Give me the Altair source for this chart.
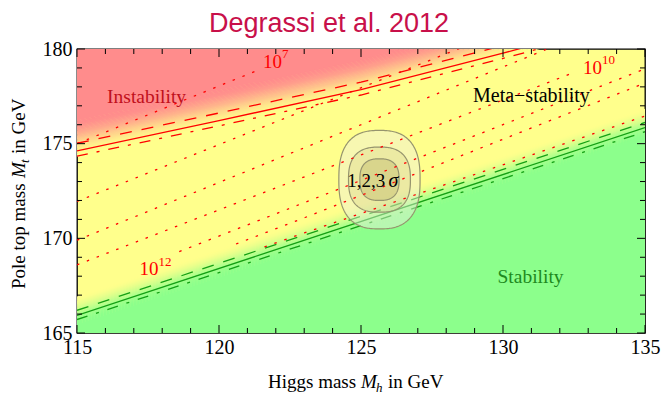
import altair as alt
import numpy as np
import pandas as pd

# ---------------------------------------------------------------- data
MH_RANGE = [115, 135]
MT_RANGE = [165, 180]

# absolute-stability bound (central alpha_s) and its alpha_s +/- shifts
stab_mh = [115.0, 135.0]
stab_mt = [165.93, 175.85]
stab_up, stab_dn = 0.27, -0.22

# instability bound (central alpha_s) and its alpha_s +/- shifts
inst_mh = [115.0, 120.0, 125.0, 130.0, 135.0]
inst_mt = [174.62, 176.22, 177.85, 179.78, 181.8]
inst_up, inst_dn = 0.40, -0.28

# contours of the instability scale Lambda (dotted): points along each line
lam_pts = {
    "L7":  ([115.0, 121.4], [175.0, 178.9]),
    "L8":  ([115.0, 135.0], [171.95, 183.95]),
    "L9":  ([115.0, 135.0], [169.9, 182.1]),
    "L10": ([115.0, 132.4], [168.6, 178.7]),
    "L12": ([118.6, 123.03, 135.0], [169.3, 171.9, 178.95]),
    "L13": ([120.6, 123.03, 135.0], [169.7, 171.1, 178.2]),
    "L14": ([121.6, 123.03, 135.0], [169.55, 170.3, 176.46]),
}

# Higgs / top mass measurement: 1, 2, 3 sigma regions
cl_center = (125.65, 173.1)
cl_half_mh = [0.69, 1.09, 1.43]
cl_half_mt = [1.10, 1.72, 2.60]

x_major = [115, 120, 125, 130, 135]
y_major = [165, 170, 175, 180]
x_minor = [v for v in range(115, 136) if v % 5]
y_minor = [v for v in range(165, 181) if v % 5]

# ---------------------------------------------------------------- style
W, H = 568, 284
RED, YEL, GRN = "#FF8C8C", "#FFFF8C", "#8CFF8C"
LRED, LGRN = "#FF0000", "#14A014"
SERIF = "Liberation Serif"

xs = alt.Scale(domain=MH_RANGE, nice=False, zero=False)
ys = alt.Scale(domain=MT_RANGE, nice=False, zero=False)


def hex_mix(c1, c2, t):
    a = [int(c1[i:i + 2], 16) for i in (1, 3, 5)]
    b = [int(c2[i:i + 2], 16) for i in (1, 3, 5)]
    return "#" + "".join(f"{round(u + (v - u) * t):02x}" for u, v in zip(a, b))


def smooth(t):
    return t * t * (3 - 2 * t)


# colour grading across the bounds (theory uncertainty)
rows = []
n = 28
red_lo, red_hi = -0.3, 1.6
for k in range(n + 1):
    o0 = red_lo + (red_hi - red_lo) * k / n
    o1 = red_lo + (red_hi - red_lo) * (k + 1) / n + 0.03 if k < n else 20
    col = hex_mix(YEL, RED, smooth(min(1.0, (k + 0.5) / n)))
    for mh, mt in zip(inst_mh, inst_mt):
        rows.append(dict(band=f"r{k}", mh=mh, lo=mt + o0, hi=mt + o1, col=col))
grn_hi, grn_lo = 1.0, -0.45
for k in range(n + 1):
    o0 = grn_hi - (grn_hi - grn_lo) * k / n
    o1 = grn_hi - (grn_hi - grn_lo) * (k + 1) / n - 0.03 if k < n else -20
    col = hex_mix(YEL, GRN, smooth(min(1.0, (k + 0.5) / n)))
    for mh, mt in zip(stab_mh, stab_mt):
        rows.append(dict(band=f"g{k}", mh=mh, lo=mt + o1, hi=mt + o0, col=col))
grad = pd.DataFrame(rows)

bands = alt.Chart(grad).mark_area(clip=True, strokeWidth=0).encode(
    x=alt.X("mh:Q", scale=xs),
    y=alt.Y("lo:Q", scale=ys),
    y2="hi:Q",
    color=alt.Color("col:N", scale=None),
    detail="band:N",
)


def bound_line(mh, mt, shift, color, dash=None, width=1.3):
    kw = dict(clip=True, color=color, strokeWidth=width)
    if dash:
        kw["strokeDash"] = dash
    df = pd.DataFrame({"mh": mh, "mt": [v + shift for v in mt]})
    return alt.Chart(df).mark_line(**kw).encode(
        x=alt.X("mh:Q", scale=xs), y=alt.Y("mt:Q", scale=ys)
    )


DASH = [12, 10]
DASHDOT = [11, 9, 3, 9]
lines = [
    bound_line(inst_mh, inst_mt, 0, LRED),
    bound_line(inst_mh, inst_mt, inst_up, LRED, DASH),
    bound_line(inst_mh, inst_mt, inst_dn, LRED, DASHDOT),
    bound_line(stab_mh, stab_mt, 0, LGRN),
    bound_line(stab_mh, stab_mt, stab_up, LGRN, DASH),
    bound_line(stab_mh, stab_mt, stab_dn, LGRN, DASHDOT),
]

lam = pd.DataFrame([
    dict(id=key, mh=a, mt=b)
    for key, (mhs, mts) in lam_pts.items() for a, b in zip(mhs, mts)
])
lam_lines = alt.Chart(lam).mark_line(
    clip=True, color=LRED, strokeWidth=1.3, strokeDash=[2.5, 8]
).encode(x=alt.X("mh:Q", scale=xs), y=alt.Y("mt:Q", scale=ys), detail="id:N")

# sigma regions (rounded contours)
p = 2.6
t = np.linspace(0, np.pi, 121)
tt = np.linspace(0, 2 * np.pi, 241)
fill_rows, edge_rows = [], []
for lvl, (a, b) in enumerate(zip(cl_half_mh, cl_half_mt)):
    c, s = np.cos(t), np.sin(t)
    dx = a * np.sign(c) * np.abs(c) ** (2 / p)
    dy = b * np.abs(s) ** (2 / p)
    for u, v in zip(dx, dy):
        fill_rows.append(dict(lvl=lvl, mh=cl_center[0] + u,
                              lo=cl_center[1] - v, hi=cl_center[1] + v))
    for j, (u, v) in enumerate(zip(np.cos(tt), np.sin(tt))):
        edge_rows.append(dict(
            lvl=lvl, k=j,
            mh=cl_center[0] + a * np.sign(u) * abs(u) ** (2 / p),
            mt=cl_center[1] + b * np.sign(v) * abs(v) ** (2 / p)))
cl_fill = pd.DataFrame(fill_rows)
cl_edge = pd.DataFrame(edge_rows)

fills = []
for lvl, (fc, op) in enumerate([("#a09848", 0.25), ("#c8c070", 0.22), ("#eeeedd", 0.45)]):
    fills.append(
        alt.Chart(cl_fill[cl_fill.lvl == lvl]).mark_area(color=fc, opacity=op).encode(
            x=alt.X("mh:Q", scale=xs), y=alt.Y("lo:Q", scale=ys), y2="hi:Q")
    )
fills = fills[::-1]
edges = alt.Chart(cl_edge).mark_line(color="#96946e", strokeWidth=1.2).encode(
    x=alt.X("mh:Q", scale=xs), y=alt.Y("mt:Q", scale=ys), order="k:Q", detail="lvl:N")


# ---------------------------------------------------------------- text
def label(txt, mh, mt, size=20, color="black", align="center", style="normal"):
    return alt.Chart().mark_text(
        text=txt, font=SERIF, fontSize=size, color=color, align=align,
        baseline="alphabetic", fontStyle=style,
    ).encode(x=alt.datum(mh, scale=xs), y=alt.datum(mt, scale=ys))


def pow10(mh, mt, exp):
    return [
        label("10", mh, mt, 19, LRED, "left"),
        label(exp, mh + 0.67, mt + 0.5, 13, LRED, "left"),
    ]


texts = [
    label("Instability", 117.45, 177.17, 19.5, "#C0101C"),
    label("Meta\u2212stability", 131.0, 177.2, 20, "black"),
    label("Stability", 130.97, 167.63, 19.5, "#1E8A1E"),
    label("1,2,3", 125.85, 172.73, 19, "black", "right"),
    label("\u03c3", 125.97, 172.73, 20, "black", "left", "italic"),
]
texts += pow10(121.55, 179.0, "7")
texts += pow10(132.82, 178.7, "10")
texts += pow10(117.2, 168.05, "12")


# ---------------------------------------------------------------- frame ticks
def tick_layer(vals, orient, length):
    df = pd.DataFrame({"v": vals})
    base = alt.Chart(df).mark_rule(color="black", strokeWidth=1)
    if orient == "bottom":
        return base.encode(x=alt.X("v:Q", scale=xs), y=alt.value(H), y2=alt.value(H - length))
    if orient == "top":
        return base.encode(x=alt.X("v:Q", scale=xs), y=alt.value(0), y2=alt.value(length))
    if orient == "left":
        return base.encode(y=alt.Y("v:Q", scale=ys), x=alt.value(0), x2=alt.value(length))
    return base.encode(y=alt.Y("v:Q", scale=ys), x=alt.value(W), x2=alt.value(W - length))


ticks = []
for o in ("bottom", "top"):
    ticks += [tick_layer(x_major, o, 8), tick_layer(x_minor, o, 5)]
for o in ("left", "right"):
    ticks += [tick_layer(y_major, o, 8), tick_layer(y_minor, o, 5)]

# axes carry only the numbers
axes = alt.Chart(pd.DataFrame({"mh": x_major[:1], "mt": y_major[:1]})).mark_point(opacity=0).encode(
    x=alt.X("mh:Q", scale=xs, axis=alt.Axis(
        values=x_major, ticks=False, domain=False, grid=False, title=None,
        labelFont=SERIF, labelFontSize=20, labelColor="black", labelPadding=4, labelFlush=False)),
    y=alt.Y("mt:Q", scale=ys, axis=alt.Axis(
        values=y_major, ticks=False, domain=False, grid=False, title=None,
        labelFont=SERIF, labelFontSize=20, labelColor="black", labelPadding=5)),
)


# axis titles built from pieces (italic symbol with subscript)
def px_text(txt, x, y, size=19, style="normal", angle=0, align="left"):
    return alt.Chart().mark_text(
        text=txt, font=SERIF, fontSize=size, fontStyle=style, angle=angle,
        align=align, baseline="alphabetic", color="black",
    ).encode(x=alt.value(x), y=alt.value(y))


xt0, xty = 191, 339
xtitle = [
    px_text("Higgs mass", xt0, xty),
    px_text("M", xt0 + 93, xty, style="italic"),
    px_text("h", xt0 + 108, xty + 4, 13, "italic"),
    px_text("in GeV", xt0 + 120, xty),
]
ytx, yt0 = -52, 240
ytitle = [
    px_text("Pole top mass", ytx, yt0, angle=270),
    px_text("M", ytx, yt0 - 111, style="italic", angle=270),
    px_text("t", ytx + 4, yt0 - 126, 13, "italic", angle=270),
    px_text("in GeV", ytx, yt0 - 135, angle=270),
]

chart = alt.layer(
    bands, *lines, *fills, edges, lam_lines, *texts, *ticks, axes, *xtitle, *ytitle
).properties(
    width=W, height=H,
    title=alt.TitleParams("Degrassi et al. 2012", font="Liberation Sans", fontSize=27,
                          fontWeight="normal", color="#C8104A", anchor="middle",
                          offset=1, dx=-32),
    padding={"left": 77, "top": 49, "right": 17, "bottom": 62},
    autosize="none",
).configure_view(fill=YEL, stroke="black", strokeWidth=1.3)

chart.save("out.html", embed_options={"renderer": "svg", "actions": False})
